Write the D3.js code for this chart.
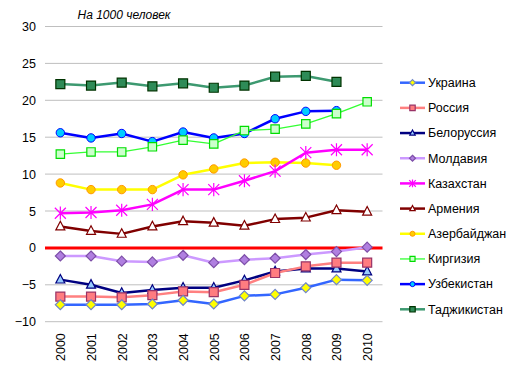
<!DOCTYPE html>
<html>
<head>
<meta charset="utf-8">
<script src="https://cdn.jsdelivr.net/npm/d3@7"></script>
<style>
body { margin: 0; background: #fff; }
text { font-family: Arial, "Liberation Sans", sans-serif; }
</style>
</head>
<body>
<svg class="chart"></svg>
<script>
let width = 513
let height = 377

const margin = {top: 26.5, left: 45, right: 130, bottom: 55.3}

// data
const years = ["2000", "2001", "2002", "2003", "2004", "2005", "2006", "2007", "2008", "2009", "2010"]
const yTicks = [-10, -5, 0, 5, 10, 15, 20, 25, 30]

const ukraine = [-7.7, -7.7, -7.7, -7.6, -7.1, -7.6, -6.5, -6.3, -5.4, -4.3, -4.4]
const russia = [-6.6, -6.6, -6.7, -6.4, -5.9, -6.0, -5.0, -3.4, -2.5, -2.0, -2.0]
const belarus = [-4.3, -5.0, -6.1, -5.7, -5.4, -5.4, -4.4, -3.2, -2.8, -2.8, -3.2]
const moldova = [-1.1, -1.1, -1.8, -1.9, -1.0, -2.0, -1.6, -1.4, -0.9, -0.5, 0.1]
const kazakhstan = [4.7, 4.8, 5.1, 5.9, 7.9, 7.9, 9.1, 10.4, 12.9, 13.3, 13.3]
const armenia = [2.9, 2.3, 1.9, 2.9, 3.6, 3.4, 3.0, 3.9, 4.1, 5.1, 4.9]
const azerbaijan = [8.8, 7.9, 7.9, 7.9, 9.9, 10.7, 11.5, 11.6, 11.5, 11.2, null]
const kyrgyzstan = [12.7, 13.0, 13.0, 13.7, 14.6, 14.1, 15.9, 16.1, 16.8, 18.2, 19.8]
const uzbekistan = [15.6, 14.9, 15.5, 14.4, 15.7, 14.9, 15.5, 17.5, 18.5, 18.6, null]
const tajikistan = [22.2, 22.0, 22.4, 21.9, 22.3, 21.7, 22.0, 23.2, 23.3, 22.5, null]

const names = ["Украина", "Россия", "Белоруссия", "Молдавия", "Казахстан",
    "Армения", "Азербайджан", "Киргизия", "Узбекистан", "Таджикистан"]

// styles per series
const series = [
    {name: names[0], values: ukraine, line: "#3366ff", lw: 2.5, marker: "diamond", fill: "#ffff00", stroke: "#6f86c8", size: 5},
    {name: names[1], values: russia, line: "#ff8080", lw: 2.5, marker: "square", fill: "#ff7c80", stroke: "#993366", size: 4.5},
    {name: names[2], values: belarus, line: "#000080", lw: 2.5, marker: "triangle", fill: "#99ccff", stroke: "#000080", size: 4.5},
    {name: names[3], values: moldova, line: "#cc99ff", lw: 2.5, marker: "diamond", fill: "#b07fe0", stroke: "#7d4fa8", size: 5},
    {name: names[4], values: kazakhstan, line: "#ff00ff", lw: 2.5, marker: "star", fill: "none", stroke: "#ff00ff", size: 5.5},
    {name: names[5], values: armenia, line: "#800000", lw: 2.5, marker: "triangle", fill: "#ffffff", stroke: "#800000", size: 4.5},
    {name: names[6], values: azerbaijan, line: "#ffff00", lw: 2.5, marker: "circle", fill: "#ffcc00", stroke: "#ff9900", size: 4.2},
    {name: names[7], values: kyrgyzstan, line: "#33ff33", lw: 1.3, marker: "square", fill: "#ccffcc", stroke: "#00dd00", size: 4.2},
    {name: names[8], values: uzbekistan, line: "#0000ff", lw: 2.5, marker: "circle", fill: "#00ccff", stroke: "#0000ff", size: 4.2},
    {name: names[9], values: tajikistan, line: "#3d9970", lw: 2.5, marker: "square", fill: "#2e8b57", stroke: "#003300", size: 4.5}
]

let svg = d3.select(".chart")
    .attr("width", width)
    .attr("height", height)

let xScale = d3.scalePoint()
    .domain(years)
    .range([margin.left, 382.5])
    .padding(0.5)

let yScale = d3.scaleLinear()
    .domain([-10, 30])
    .range([height - margin.bottom, margin.top])

// gridlines
svg.append("g")
    .selectAll("line.grid")
    .data(yTicks.filter(d => d !== 0))
    .enter()
    .append("line")
    .classed("grid", true)
    .attr("x1", margin.left)
    .attr("x2", 382.5)
    .attr("y1", d => yScale(d))
    .attr("y2", d => yScale(d))
    .attr("stroke", "#bfbfbf")
    .attr("stroke-width", 1)

// y axis labels
let yAxis = svg.append("g")
    .attr("transform", `translate(${margin.left - 9}, 0)`)
    .call(d3.axisLeft(yScale).tickValues(yTicks).tickSize(0).tickPadding(0))
yAxis.select(".domain").remove()
yAxis.selectAll("text")
    .attr("font-size", 12.5)
    .attr("font-family", "Arial, 'Liberation Sans', sans-serif")
    .attr("fill", "#000")

// x axis labels, rotated
let xAxis = svg.append("g")
    .attr("transform", `translate(0, ${yScale(-10)})`)
    .call(d3.axisBottom(xScale).tickSize(0).tickPadding(0))
xAxis.select(".domain").remove()
xAxis.selectAll("text")
    .attr("font-size", 12.5)
    .attr("font-family", "Arial, 'Liberation Sans', sans-serif")
    .attr("fill", "#000")
    .attr("transform", "translate(0, 11.5) rotate(-90)")
    .attr("text-anchor", "end")
    .attr("dy", "0.35em")
    .attr("x", 0)
    .attr("y", 0)

// zero line
svg.append("line")
    .attr("x1", margin.left)
    .attr("x2", 382.5)
    .attr("y1", yScale(0))
    .attr("y2", yScale(0))
    .attr("stroke", "#ff0000")
    .attr("stroke-width", 3)

// title
svg.append("text")
    .attr("x", 77.5)
    .attr("y", 19)
    .attr("font-size", 12)
    .attr("font-style", "italic")
    .text("На 1000 человек")

function markerPath(type, s) {
    if (type === "square") return `M${-s},${-s}H${s}V${s}H${-s}Z`
    if (type === "diamond") return `M0,${-s}L${s},0L0,${s}L${-s},0Z`
    if (type === "triangle") return `M0,${-s * 1.15}L${s},${s * 0.75}H${-s}Z`
    if (type === "star") return `M${-s},${-s}L${s},${s}M${-s},${s}L${s},${-s}M0,${-s * 1.2}V${s * 1.2}`
    return null
}

function drawMarker(g, d, x, y) {
    if (d.marker === "circle") {
        g.append("circle")
            .attr("cx", x)
            .attr("cy", y)
            .attr("r", d.size)
            .attr("fill", d.fill)
            .attr("stroke", d.stroke)
            .attr("stroke-width", 1)
    } else {
        g.append("path")
            .attr("d", markerPath(d.marker, d.size))
            .attr("transform", `translate(${x},${y})`)
            .attr("fill", d.fill)
            .attr("stroke", d.stroke)
            .attr("stroke-width", 1.2)
    }
}

let line = d3.line()
    .defined(d => d.v !== null)
    .x(d => xScale(d.year))
    .y(d => yScale(d.v))

// series lines and markers (draw last series first so Ukraine ends on top)
series.slice().reverse().forEach(s => {
    let pts = years.map((y, i) => ({year: y, v: s.values[i]}))
    let g = svg.append("g")
    g.append("path")
        .datum(pts)
        .attr("d", line)
        .attr("fill", "none")
        .attr("stroke", s.line)
        .attr("stroke-width", s.lw)
        .attr("stroke-linejoin", "round")
    pts.filter(p => p.v !== null).forEach(p => {
        drawMarker(g, s, xScale(p.year), yScale(p.v))
    })
})

// legend
let legend = svg.append("g")
let legendY = d3.scalePoint()
    .domain(names)
    .range([82.7, 309.3])

series.forEach(s => {
    let y = legendY(s.name)
    let g = legend.append("g")
    g.append("line")
        .attr("x1", 400)
        .attr("x2", 425)
        .attr("y1", y)
        .attr("y2", y)
        .attr("stroke", s.line)
        .attr("stroke-width", s.lw)
    drawMarker(g, Object.assign({}, s, {size: s.size * 0.6}), 412.5, y)
    g.append("text")
        .attr("x", 428)
        .attr("y", y)
        .attr("dy", "0.35em")
        .attr("font-size", 12.5)
        .text(s.name)
})
</script>
</body>
</html>
